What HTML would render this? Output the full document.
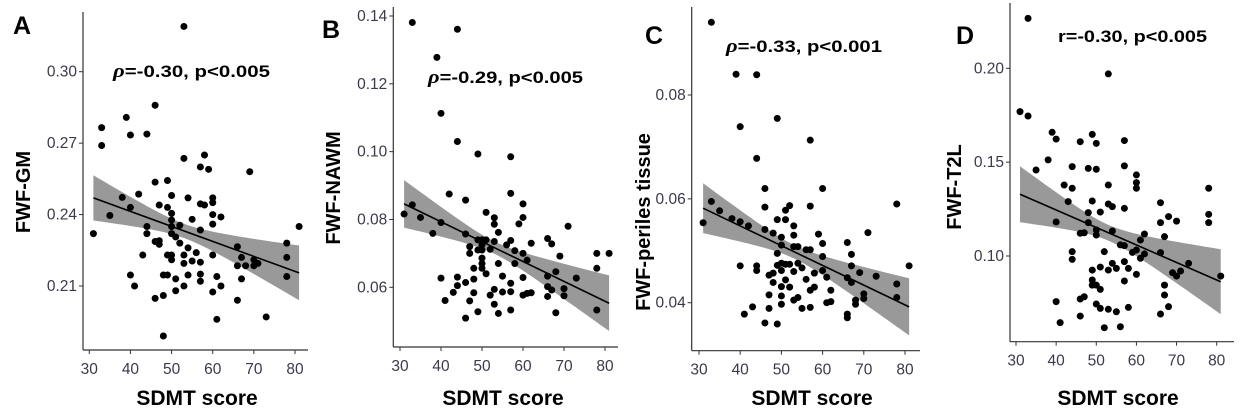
<!DOCTYPE html>
<html><head><meta charset="utf-8"><style>
html,body{margin:0;padding:0;background:#fff;}
svg{display:block;}
text{font-family:"Liberation Sans",Arial,sans-serif;}
</style></head><body>
<svg id="fig" width="1245" height="416" viewBox="0 0 1245 416"></svg>
<script>
// Panel A data (FWF-GM)
const aX=[53,31,33,33,35,38,39,40,40,40,41,42,43,44,44,44,46,46,46,46,47,47,47,48,48,48,49,49,49,49,50,50,50,50,50,50,50,51,51,51,52,52,53,53,53,53,54,54,54,55,55,57,57,57,57,57,57,56,58,58,59,60,60,60,60,60,60,61,61,62,62,66,66,66,67,67,68,69,70,70,71,73,78,78,78,81];
const aY=[.319,.232,.2765,.269,.2396,.2472,.2808,.2734,.243,.2146,.210,.2486,.223,.2738,.235,.232,.2859,.2536,.2287,.2048,.244,.229,.2275,.206,.189,.2146,.2543,.243,.223,.2146,.248,.2405,.2377,.235,.232,.223,.221,.2306,.213,.208,.2355,.228,.2636,.223,.2195,.210,.247,.226,.2146,.238,.2205,.2445,.260,.2335,.220,.215,.212,.224,.265,.244,.259,.247,.245,.240,.236,.223,.2075,.196,.214,.239,.210,.2265,.2185,.204,.222,.213,.2185,.258,.221,.2185,.2195,.197,.228,.222,.214,.235];
const aFit=[.247,.2155], aHw=[.0095,.003,.0115];
const aTicksY=[0.21,0.24,0.27,0.30], aTickLabY=["0.21","0.24","0.27","0.30"];
// Panel B data (FWF-NAWM)
const bX=[31,33,33,35,38,39,40,40,40,41,42,43,44,44,44,44,46,46,46,46,47,47,47,48,48,48,49,49,49,49,50,50,50,50,50,50,51,51,51,52,52,53,53,53,53,53,54,54,54,55,55,57,57,57,57,57,57,56,58,58,59,60,60,60,60,60,61,61,62,62,66,66,66,66,67,67,68,68,69,70,70,71,73,78,78,78,81];
const bY=[.0816,.1381,.0843,.0806,.0759,.1278,.1113,.0791,.0627,.0561,.0875,.0585,.1361,.1030,.063,.0605,.0857,.0757,.0614,.0509,.072,.070,.056,.0656,.0624,.0584,.0993,.0528,.074,.071,.074,.0725,.071,.0686,.067,.0656,.0821,.074,.064,.0712,.0577,.0805,.0786,.0735,.0594,.055,.0762,.067,.0523,.0633,.0586,.0985,.0877,.0738,.0612,.0587,.0533,.0725,.0708,.067,.0787,.0846,.0806,.070,.0629,.0577,.068,.0582,.073,.0584,.0744,.0633,.0602,.0573,.0728,.0592,.0646,.0525,.0692,.0596,.0575,.078,.0627,.070,.0656,.0533,.070];
const bFit=[.0846,.0553], bHw=[.007,.0018,.0082];
const bTicksY=[0.06,0.08,0.10,0.12,0.14], bTickLabY=["0.06","0.08","0.10","0.12","0.14"];
// Panel C data (FWF-periles tissue)
const cX=[31,33,33,35,38,39,40,40,40,41,42,43,44,44,44,44,46,46,46,46,47,47,47,48,48,48,49,49,49,49,49,50,50,50,50,50,50,50,51,51,51,51,52,52,52,53,53,53,53,53,54,54,54,55,55,56,56,57,57,57,57,57,58,58,59,60,60,60,60,61,61,62,62,66,66,66,66,67,67,67,68,68,69,70,70,71,73,78,78,78,81];
const cY=[.0554,.094,.0595,.0577,.0562,.084,.0556,.0739,.0471,.0378,.0548,.0392,.0839,.0678,.0471,.0462,.062,.0584,.0541,.0361,.0453,.0415,.0389,.0534,.0457,.0439,.0755,.056,.0495,.0472,.0359,.0526,.0511,.0476,.0462,.0431,.0413,.0397,.056,.0578,.0474,.0444,.0587,.0474,.043,.0548,.053,.0508,.046,.0405,.0508,.0476,.041,.0467,.0389,.0502,.0445,.0713,.0586,.0502,.0424,.0391,.043,.0457,.0532,.062,.0514,.0489,.0462,.0449,.04,.0424,.0402,.0516,.0448,.0378,.0371,.0493,.0471,.0439,.0405,.0397,.0458,.0417,.0408,.0535,.0451,.059,.0436,.041,.0471];
const cFit=[.0582,.0392], cHw=[.0048,.0013,.0055];
const cTicksY=[0.04,0.06,0.08], cTickLabY=["0.04","0.06","0.08"];
// Panel D data (FWF-T2L)
const dX=[31,33,33,35,38,39,40,40,40,41,42,43,44,44,44,44,46,46,46,46,47,47,48,48,48,49,49,49,49,49,50,50,50,50,50,50,51,51,51,51,52,52,53,53,53,53,53,54,54,54,55,55,56,56,57,57,57,57,57,57,58,58,59,60,60,60,60,60,61,61,62,62,66,66,66,66,67,67,67,68,68,69,70,70,71,73,78,78,78,81];
const dY=[.1769,.2266,.1746,.1458,.1512,.1659,.1623,.1181,.0757,.0645,.1378,.1290,.1476,.1361,.1023,.0982,.1609,.1121,.0771,.068,.0783,.1124,.1467,.1231,.1178,.1648,.1293,.0925,.0872,.0845,.160,.1462,.1139,.1112,.0845,.0744,.1234,.0941,.0822,.0721,.1023,.0618,.1378,.1277,.197,.0925,.0716,.1263,.1133,.0961,.0703,.0934,.0623,.1059,.1615,.148,.1254,.1055,.097,.0867,.0934,.0726,.1019,.1432,.1391,.1361,.1032,.0902,.1085,.0988,.1117,.1011,.1284,.1178,.1018,.0691,.1103,.0845,.0792,.121,.073,.0911,.1186,.0893,.092,.0961,.1361,.1222,.1178,.0893];
const dFit=[.1329,.0863], dHw=[.0149,.0042,.0173];
const dTicksY=[0.10,0.15,0.20], dTickLabY=["0.10","0.15","0.20"];
// shared x axis
const xTicks=[30,40,50,60,70,80], xTickLab=["30","40","50","60","70","80"];
const fitRange=[31,81], meanX=53;

const NS="http://www.w3.org/2000/svg";
const svg=document.getElementById('fig');
function mk(tag,attrs,parent){const e=document.createElementNS(NS,tag);for(const k in attrs)e.setAttribute(k,attrs[k]);(parent||svg).appendChild(e);return e;}

const panels=[
 {id:'a',letter:'A',lx:13,ly:34,X:aX,Y:aY,fit:aFit,hw:aHw,ty:aTicksY,tl:aTickLabY,
  box:[83,12,308,350],xa:[30,89.3,80,295],ya:[0.30,71.7,0.21,286],
  ylab:'FWF-GM',ylx:30,yly:192,xlc:197,sym:'\u03C1',ann:'=-0.30, p<0.005',ax:113,ay:77,aw:157},
 {id:'b',letter:'B',lx:322,ly:38,X:bX,Y:bY,fit:bFit,hw:bHw,ty:bTicksY,tl:bTickLabY,
  box:[393.3,7,618,347],xa:[30,400,80,605],ya:[0.14,16,0.06,287.3],
  ylab:'FWF-NAWM',ylx:340,yly:188,xlc:503,sym:'\u03C1',ann:'=-0.29, p<0.005',ax:428,ay:83,aw:155},
 {id:'c',letter:'C',lx:645,ly:44,X:cX,Y:cY,fit:cFit,hw:cHw,ty:cTicksY,tl:cTickLabY,
  box:[691.7,7,920,350.7],xa:[30,699,80,905],ya:[0.08,95,0.04,302.7],
  ylab:'FWF-periles tissue',ylx:650,yly:222,xlc:812,sym:'\u03C1',ann:'=-0.33, p<0.001',ax:726,ay:52,aw:156},
 {id:'d',letter:'D',lx:956,ly:44,X:dX,Y:dY,fit:dFit,hw:dHw,ty:dTicksY,tl:dTickLabY,
  box:[1010,3,1234,341.7],xa:[30,1016,80,1216.7],ya:[0.20,68.3,0.10,256],
  ylab:'FWF-T2L',ylx:961,yly:187,xlc:1118,sym:'',ann:'r=-0.30, p<0.005',ax:1058,ay:42,aw:149}
];

panels.forEach(p=>{
 const g=mk('g',{});
 
 
 const sx=v=>p.xa[1]+(v-p.xa[0])*(p.xa[3]-p.xa[1])/(p.xa[2]-p.xa[0]);
 const sy=v=>p.ya[1]+(v-p.ya[0])*(p.ya[3]-p.ya[1])/(p.ya[2]-p.ya[0]);
 const fitY=x=>p.fit[0]+(x-fitRange[0])*(p.fit[1]-p.fit[0])/(fitRange[1]-fitRange[0]);
 const kL=(p.hw[0]**2-p.hw[1]**2)/((fitRange[0]-meanX)**2);
 const kR=(p.hw[2]**2-p.hw[1]**2)/((fitRange[1]-meanX)**2);
 const hw=x=>Math.sqrt(p.hw[1]**2+(x<meanX?kL:kR)*(x-meanX)**2);
 let up=[],lo=[];
 for(let i=0;i<=50;i++){const x=fitRange[0]+i*(fitRange[1]-fitRange[0])/50;
  up.push(sx(x).toFixed(2)+','+sy(fitY(x)+hw(x)).toFixed(2));
  lo.unshift(sx(x).toFixed(2)+','+sy(fitY(x)-hw(x)).toFixed(2));}
 const band=mk('polygon',{points:up.concat(lo).join(' '),fill:'#999999',stroke:'none'},g);
 
 
 p.X.forEach((x,i)=>{
  const c=mk('circle',{cx:sx(x),cy:sy(p.Y[i]),r:3.5,fill:'#000'},g);
  
  
 });
 const ln=mk('line',{x1:sx(fitRange[0]),y1:sy(p.fit[0]),x2:sx(fitRange[1]),y2:sy(p.fit[1]),stroke:'#000','stroke-width':1.6},g);
 
 
 const [L,T,R,B]=p.box;
 const ya=mk('line',{x1:L,y1:T,x2:L,y2:B,stroke:'#333','stroke-width':1.2},g);
 
 
 const xa=mk('line',{x1:L,y1:B,x2:R,y2:B,stroke:'#333','stroke-width':1.2},g);
 
 
 xTicks.forEach((t,i)=>{
  mk('line',{x1:sx(t),y1:B,x2:sx(t),y2:B+4,stroke:'#333','stroke-width':1},g);
  const tx=mk('text',{x:sx(t),y:B+24,'text-anchor':'middle','font-size':15.5,fill:'#3a3a4a'},g);
  tx.textContent=xTickLab[i];
  
  
 });
 p.ty.forEach((t,i)=>{
  mk('line',{x1:L-4,y1:sy(t),x2:L,y2:sy(t),stroke:'#333','stroke-width':1},g);
  const tx=mk('text',{x:L-6,y:sy(t)+5,'text-anchor':'end','font-size':15.5,fill:'#3a3a4a'},g);
  tx.textContent=p.tl[i];
  
  
 });
 const yl=mk('text',{x:p.ylx,y:p.yly,'text-anchor':'middle','font-size':20,'font-weight':'bold',fill:'#000',transform:`rotate(-90 ${p.ylx} ${p.yly})`},g);
 yl.textContent=p.ylab;
 
 
 const xl=mk('text',{x:p.xlc,y:405,'text-anchor':'middle','font-size':21,'font-weight':'bold',fill:'#000'},g);
 xl.textContent='SDMT score';
 
 
 const lt=mk('text',{x:p.lx,y:p.ly,'font-size':25,'font-weight':'bold',fill:'#000'},g);
 lt.textContent=p.letter;
 
 
 const an=mk('text',{x:p.ax,y:p.ay,'font-size':17,'font-weight':'bold',fill:'#000',textLength:p.aw,lengthAdjust:'spacingAndGlyphs'},g);
 if(p.sym){const ts=mk('tspan',{'font-style':'italic','font-family':'"Liberation Serif",serif','font-size':19},an);ts.textContent=p.sym;}
 const t2=mk('tspan',{},an);t2.textContent=p.ann;
 
 
});
</script>
</body></html>
